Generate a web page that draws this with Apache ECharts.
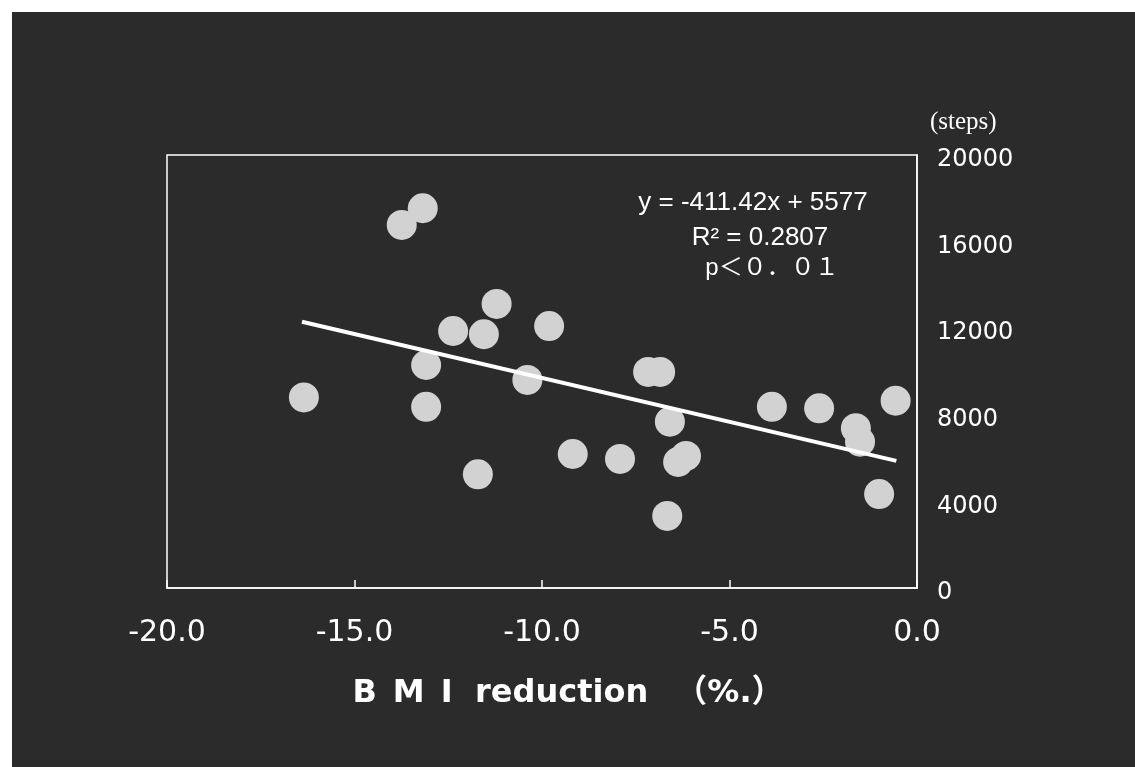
<!DOCTYPE html>
<html>
<head>
<meta charset="utf-8">
<script src="https://cdn.jsdelivr.net/npm/echarts@6/dist/echarts.min.js"></script>
<style>
html,body{margin:0;padding:0;background:#ffffff;width:1135px;height:767px;overflow:hidden;}
#chart{position:absolute;left:12px;top:12px;width:1123px;height:755px;}
</style>
</head>
<body>
<div id="chart"></div>
<script>
// BMI reduction (%) for each subject
const bmiReduction = [-16.35, -13.74, -13.18, -13.09, -13.09, -12.37, -11.55, -11.21, -11.71, -10.39,
  -9.81, -9.18, -7.92, -7.17, -6.85, -6.59, -6.37, -6.16, -6.66, -3.87,
  -2.61, -0.57, -1.63, -1.52, -1.01];
// daily steps for each subject
const steps = [8800, 16770, 17540, 10300, 8370, 11870, 11720, 13120, 5250, 9610,
  12100, 6190, 5960, 9980, 9980, 7680, 5820, 6100, 3330, 8370,
  8300, 8650, 7380, 6760, 4340];
// regression line end points as drawn
const trendX = [-16.4, -0.55];
const trendY = [12300, 5870];
// axis ticks
const xTicks = [-20, -15, -10, -5, 0];
const yTicks = [0, 4000, 8000, 12000, 16000, 20000];
const xTitle = 'B\u2002M\u2002I\u2002\u2009reduction\u2002 （%.）';
const yUnit = '(steps)';
const eqLines = ['y = -411.42x + 5577', 'R² = 0.2807', 'p＜０．０１'];

const chart = echarts.init(document.getElementById('chart'));
const OX = 12, OY = 12;
chart.setOption({
  backgroundColor: '#2b2b2b',
  animation: false,
  grid: {left: 167 - OX, top: 155 - OY, right: 1135 - 917, bottom: 767 - 588,
    show: true, borderColor: '#ffffff', borderWidth: 1.5, backgroundColor: 'transparent'},
  xAxis: {
    type: 'value', min: xTicks[0], max: xTicks[xTicks.length - 1], interval: 5,
    axisLine: {show: true, lineStyle: {color: '#ffffff', width: 1.5}},
    axisTick: {show: true, inside: true, length: 8, lineStyle: {color: '#ffffff', width: 1.5}},
    splitLine: {show: false},
    axisLabel: {color: '#ffffff', fontSize: 30, fontFamily: 'DejaVu Sans', margin: 30,
      formatter: v => v.toFixed(1)}
  },
  yAxis: {
    type: 'value', position: 'right', min: yTicks[0], max: yTicks[yTicks.length - 1], interval: 4000,
    axisLine: {show: true, lineStyle: {color: '#ffffff', width: 1.5}},
    axisTick: {show: false},
    splitLine: {show: false},
    axisLabel: {color: '#ffffff', fontSize: 24, fontFamily: 'DejaVu Sans', margin: 20,
      verticalAlign: 'top', lineHeight: 10, formatter: v => String(v)}
  },
  graphic: [
    {type: 'text', left: 930 - OX, top: 110 - OY,
      style: {text: yUnit, fill: '#ffffff', font: '25px "Liberation Serif"'}},
    {type: 'text', x: 753 - OX, y: 203 - OY,
      style: {text: eqLines[0], fill: '#ffffff', font: '26px "Liberation Sans"', textAlign: 'center', textVerticalAlign: 'middle'}},
    {type: 'text', x: 760 - OX, y: 238 - OY,
      style: {text: eqLines[1], fill: '#ffffff', font: '26px "Liberation Sans"', textAlign: 'center', textVerticalAlign: 'middle'}},
    {type: 'text', x: 772 - OX, y: 268 - OY,
      style: {text: eqLines[2], fill: '#ffffff', font: '24px "Liberation Sans", "Noto Sans CJK JP"', textAlign: 'center', textVerticalAlign: 'middle'}},
    {type: 'text', x: 568 - OX, y: 694 - OY,
      style: {text: xTitle, fill: '#ffffff', font: 'bold 32px "DejaVu Sans", "Noto Sans CJK JP"', textAlign: 'center', textVerticalAlign: 'middle'}}
  ],
  series: [
    {type: 'scatter', symbol: 'circle', symbolSize: 30, z: 2,
      itemStyle: {color: '#d2d2d2', opacity: 1},
      data: bmiReduction.map((x, i) => [x, steps[i]])},
    {type: 'line', z: 3, symbol: 'none', silent: true,
      lineStyle: {color: '#ffffff', width: 4},
      data: trendX.map((x, i) => [x, trendY[i]])}
  ]
});
</script>
</body>
</html>
